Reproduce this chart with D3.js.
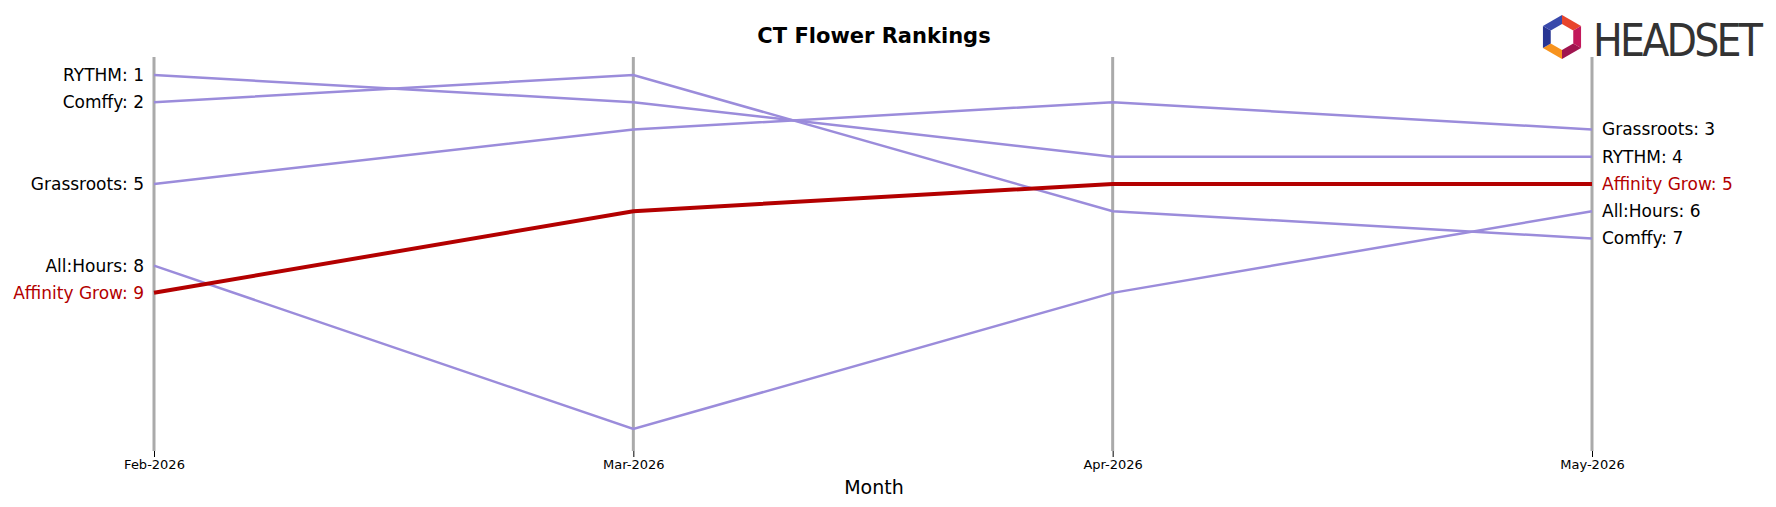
<!DOCTYPE html>
<html><head><meta charset="utf-8">
<script src="https://cdn.jsdelivr.net/npm/d3@7"></script>
<style>body{margin:0;background:#fff;font-family:"DejaVu Sans",sans-serif}</style>
</head><body><svg id="c" width="1776" height="507"></svg>
<script>
const months = ["Feb-2026","Mar-2026","Apr-2026","May-2026"];
const brands = ["RYTHM","Comffy","Grassroots","All:Hours","Affinity Grow"];
const rythm = [1,2,4,4];
const comffy = [2,1,6,7];
const grassroots = [5,3,2,3];
const allHours = [8,14,9,6];
const affinity = [9,6,5,5];
const series = [rythm, comffy, grassroots, allHours, affinity];
const highlight = "Affinity Grow";

const svg = d3.select("#c");
const x = d3.scalePoint().domain(months).range([154, 1592]);
const y = d3.scaleLinear().domain([1,14]).range([75, 429]);

svg.append("text").attr("x",874).attr("y",43).attr("text-anchor","middle")
  .attr("font-size",21).attr("font-weight","bold").text("CT Flower Rankings");

months.forEach(m=>{
  svg.append("line").attr("x1",x(m)).attr("x2",x(m)).attr("y1",57).attr("y2",451)
    .attr("stroke","#aaa").attr("stroke-width",3);
});
const ax = svg.append("g").attr("transform","translate(0,451)")
  .call(d3.axisBottom(x).tickSize(6));
ax.select(".domain").remove();
ax.selectAll("text").attr("font-size",13).attr("font-family","DejaVu Sans").attr("fill","#000");
svg.append("text").attr("x",874).attr("y",494).attr("text-anchor","middle").attr("font-size",19).text("Month");

const line = d3.line().x((d,i)=>x(months[i])).y(d=>y(d));
brands.forEach((b,k)=>{
  const hl = b===highlight;
  svg.append("path").datum(series[k]).attr("d",line).attr("fill","none")
    .attr("stroke", hl?"#b30000":"#9b8cdb").attr("stroke-width", hl?4:2.5);
});
brands.forEach((b,k)=>{
  const hl = b===highlight, v=series[k];
  svg.append("text").attr("x",x(months[0])-10).attr("y",y(v[0])).attr("dy","0.35em")
    .attr("text-anchor","end").attr("font-size",17).attr("fill",hl?"#b30000":"#000").text(`${b}: ${v[0]}`);
  svg.append("text").attr("x",x(months[3])+10).attr("y",y(v[3])).attr("dy","0.35em")
    .attr("text-anchor","start").attr("font-size",17).attr("fill",hl?"#b30000":"#000").text(`${b}: ${v[3]}`);
});
// logo
const lg = svg.append("g").attr("transform","translate(1562,37)");
const cols=["#e8452c","#c2185b","#a0154f","#f7931e","#283593","#3949ab"];
d3.range(6).forEach(i=>{
  const a0=(i*60-90)*Math.PI/180, a1=((i+1)*60-90)*Math.PI/180;
  lg.append("path").attr("d",`M${13*Math.cos(a0)},${13*Math.sin(a0)}L${22*Math.cos(a0)},${22*Math.sin(a0)}L${22*Math.cos(a1)},${22*Math.sin(a1)}L${13*Math.cos(a1)},${13*Math.sin(a1)}Z`).attr("fill",cols[i]);
});
svg.append("text").attr("x",1593).attr("y",56).attr("font-size",44).attr("font-family","DejaVu Sans Condensed").attr("fill","#333").attr("textLength",170).text("HEADSET");
</script></body></html>
